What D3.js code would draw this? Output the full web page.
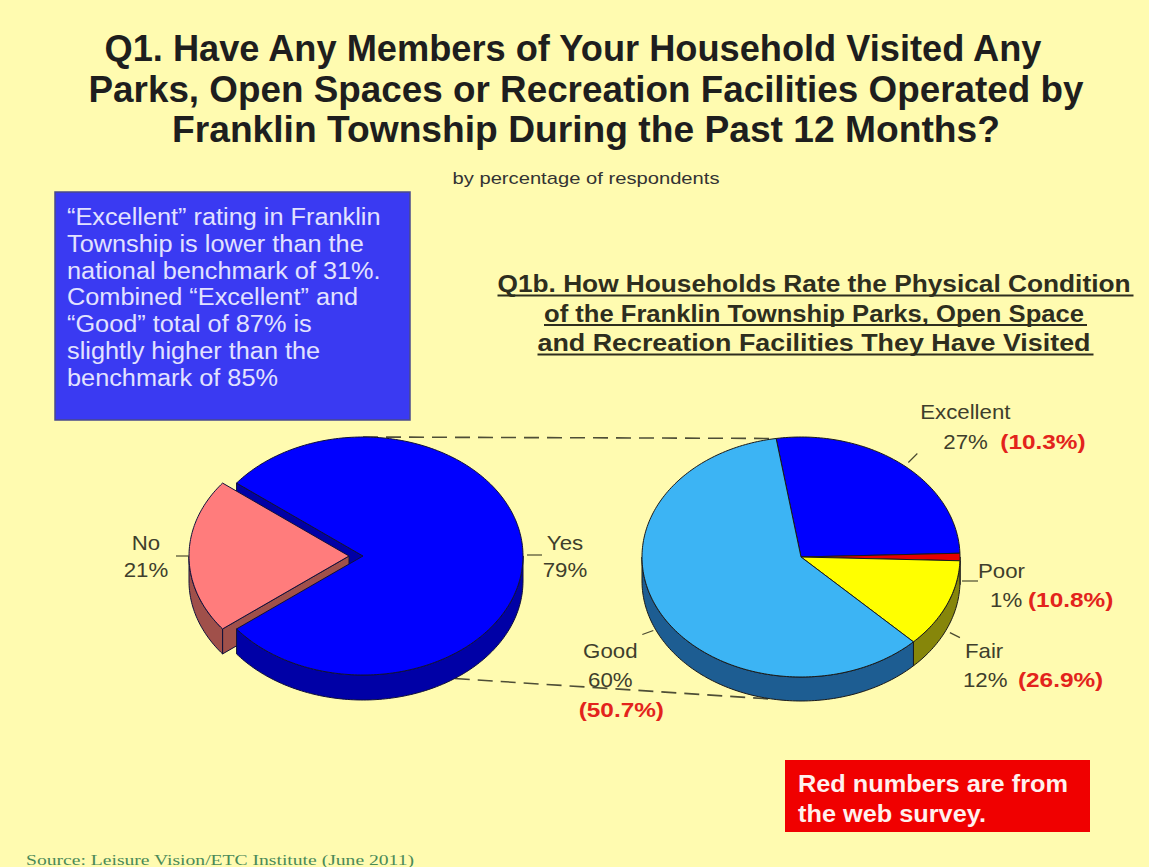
<!DOCTYPE html>
<html>
<head>
<meta charset="utf-8">
<script src="https://cdn.jsdelivr.net/npm/d3@7"></script>
<style>
  html, body { margin: 0; padding: 0; background: #fffbb0; }
  svg { display: block; }
</style>
</head>
<body>
<script>
// ---- Data ----
const visitCategories = ["Yes", "No"];
const visitValues = [79, 21];

const ratingCategories = ["Excellent", "Poor", "Fair", "Good"];
const ratingValues = [27, 1, 12, 60];
const webSurveyValues = [10.3, 10.8, 26.9, 50.7];

const titleLines = [
  "Q1. Have Any Members of Your Household Visited Any",
  "Parks, Open Spaces or Recreation Facilities Operated by",
  "Franklin Township During the Past 12 Months?"
];
const subtitleText = "by percentage of respondents";
const ratingTitleLines = [
  "Q1b.  How Households Rate the Physical Condition",
  "of the Franklin Township Parks, Open Space",
  "and Recreation Facilities They Have Visited"
];
const noteLines = [
  "\u201CExcellent\u201D rating in Franklin",
  "Township is lower than the",
  "national benchmark of 31%.",
  "Combined \u201CExcellent\u201D and",
  "\u201CGood\u201D total of 87% is",
  "slightly higher than the",
  "benchmark of 85%"
];
const webNoteLines = ["Red numbers are from", "the web survey."];
const sourceText = "Source:  Leisure Vision/ETC Institute (June 2011)";

// ---- Styling ----
const W = 1149, H = 867;
const FONT = "'Liberation Sans', Arial, sans-serif";
const labelColor = "#3e3e2c";
const webColor = "#e3231c";

const visitColors = {
  Yes: { top: "#0000ff", side: "#0000a6" },
  No:  { top: "#ff7c7c", side: "#a0504a" }
};
const ratingColors = {
  Excellent: { top: "#0000ff", side: "#0000a6" },
  Poor:      { top: "#e60000", side: "#8c0000" },
  Fair:      { top: "#ffff00", side: "#86860a" },
  Good:      { top: "#3cb4f4", side: "#1d5d92" }
};

const svg = d3.select("body").append("svg")
  .attr("width", W).attr("height", H)
  .style("font-family", FONT);

svg.append("rect").attr("width", W).attr("height", H).attr("fill", "#fffbb0");

// Fit a text to an exact width
function fitText(sel, width) {
  sel.attr("textLength", width).attr("lengthAdjust", "spacingAndGlyphs");
}
// Widen a text horizontally by a factor of its natural width
function stretch(sel, factor) {
  sel.each(function () {
    const w = this.getComputedTextLength();
    d3.select(this).attr("textLength", w * factor).attr("lengthAdjust", "spacingAndGlyphs");
  });
}

// ---- Titles ----
const titleWidths = [937, 995, 828];
const titleCenters = [573, 586, 586];
titleLines.forEach((t, i) => {
  svg.append("text")
    .attr("x", titleCenters[i]).attr("y", 61 + i * 40.5)
    .attr("text-anchor", "middle")
    .attr("font-size", 37).attr("font-weight", "bold")
    .attr("fill", "#1e1e1e")
    .text(t)
    .call(fitText, titleWidths[i]);
});

svg.append("text")
  .attr("x", 586).attr("y", 184)
  .attr("text-anchor", "middle")
  .attr("font-size", 17)
  .attr("fill", "#333")
  .text(subtitleText)
  .call(fitText, 267);

// ---- Note box (blue) ----
svg.append("rect")
  .attr("x", 55).attr("y", 192).attr("width", 355).attr("height", 228)
  .attr("fill", "#3a3af2").attr("stroke", "#4a4a8a").attr("stroke-width", 1.5);
noteLines.forEach((t, i) => {
  svg.append("text")
    .attr("x", 67).attr("y", 225 + i * 26.8)
    .attr("font-size", 23)
    .attr("fill", "#e2e2ff")
    .text(t)
    .call(stretch, 1.1);
});

// ---- Rating chart heading (underlined) ----
const rtWidths = [633, 540, 553];
ratingTitleLines.forEach((t, i) => {
  const y = 292 + i * 29.5;
  svg.append("text")
    .attr("x", 814).attr("y", y)
    .attr("text-anchor", "middle")
    .attr("font-size", 23).attr("font-weight", "bold")
    .attr("fill", "#2e2e1e")
    .text(t)
    .call(fitText, rtWidths[i]);
  svg.append("line")
    .attr("x1", 814 - rtWidths[i] / 2).attr("x2", 814 + rtWidths[i] / 2 + 3)
    .attr("y1", y + 3.5).attr("y2", y + 3.5)
    .attr("stroke", "#2e2e1e").attr("stroke-width", 2);
});

// ---- 3D pie helpers ----
const TAU = 2 * Math.PI;
function ellPt(g, a, off = [0, 0], dz = 0) {
  return [g.cx + off[0] + g.rx * Math.sin(a), g.cy + off[1] - g.ry * Math.cos(a) + dz];
}
function arcPts(g, a0, a1, off, dz) {
  const n = Math.max(2, Math.ceil(Math.abs(a1 - a0) / 0.02));
  return d3.range(n + 1).map(i => ellPt(g, a0 + (a1 - a0) * i / n, off, dz));
}
const line = d3.line();
function topPath(g, a0, a1, off) {
  return line([[g.cx + off[0], g.cy + off[1]], ...arcPts(g, a0, a1, off, 0)]) + "Z";
}
function outerWalls(g, a0, a1, off) {
  const paths = [];
  for (let k = -2; k <= 2; k++) {
    const f0 = Math.PI / 2 + k * TAU, f1 = 1.5 * Math.PI + k * TAU;
    const b0 = Math.max(a0, f0), b1 = Math.min(a1, f1);
    if (b1 > b0) {
      const upper = arcPts(g, b0, b1, off, 0);
      const lower = arcPts(g, b1, b0, off, g.depth);
      paths.push(line([...upper, ...lower]) + "Z");
    }
  }
  return paths;
}
function radialWall(g, a, off) {
  const c = [g.cx + off[0], g.cy + off[1]];
  const p = ellPt(g, a, off, 0);
  return line([c, p, [p[0], p[1] + g.depth], [c[0], c[1] + g.depth]]) + "Z";
}

function drawPie3D(layer, g, slices, colors, explode, strokeColor) {
  const offs = slices.map(s => {
    const e = explode[s.data.name] || 0;
    const m = (s.startAngle + s.endAngle) / 2;
    return [e * Math.sin(m), -e * Math.cos(m) * g.ry / g.rx];
  });
  const hasGap = slices.some(s => explode[s.data.name]);
  // radial walls visible through the exploded gap
  if (hasGap) {
    slices.forEach((s, i) => {
      const c = colors[s.data.name];
      if (Math.sin(s.startAngle) < 0)
        layer.append("path").attr("d", radialWall(g, s.startAngle, offs[i]))
          .attr("fill", c.side).attr("stroke", strokeColor).attr("stroke-width", 1);
      if (Math.sin(s.endAngle) > 0)
        layer.append("path").attr("d", radialWall(g, s.endAngle, offs[i]))
          .attr("fill", c.side).attr("stroke", strokeColor).attr("stroke-width", 1);
    });
  }
  // outer rim
  slices.forEach((s, i) => {
    const c = colors[s.data.name];
    outerWalls(g, s.startAngle, s.endAngle, offs[i]).forEach(d => {
      layer.append("path").attr("d", d)
        .attr("fill", c.side).attr("stroke", strokeColor).attr("stroke-width", 1);
    });
  });
  // top faces
  slices.forEach((s, i) => {
    const c = colors[s.data.name];
    layer.append("path").attr("d", topPath(g, s.startAngle, s.endAngle, offs[i]))
      .attr("fill", c.top).attr("stroke", strokeColor).attr("stroke-width", 1)
      .attr("stroke-linejoin", "round");
  });
  return offs;
}

// ---- Pie layouts ----
const visitData = visitCategories.map((name, i) => ({ name, value: visitValues[i] }));
const ratingData = ratingCategories.map((name, i) => ({ name, value: ratingValues[i], web: webSurveyValues[i] }));

// "No" slice is centred on the left (9 o'clock)
const noShare = visitValues[1] / d3.sum(visitValues);
const visitStart = -Math.PI / 2 + noShare * Math.PI;
const visitPie = d3.pie().sort(null).value(d => d.value)
  .startAngle(visitStart).endAngle(visitStart + TAU);
const ratingStart = -9 * Math.PI / 180;
const ratingPie = d3.pie().sort(null).value(d => d.value)
  .startAngle(ratingStart).endAngle(ratingStart + TAU);

const visitSlices = visitPie(visitData);
const ratingSlices = ratingPie(ratingData);

const gLeft = { cx: 363, cy: 556, rx: 160, ry: 119, depth: 25 };
const gRight = { cx: 801, cy: 557, rx: 159, ry: 120, depth: 24 };

// ---- Connector lines (drawn beneath the pies) ----
const connectors = svg.append("g")
  .attr("fill", "none").attr("stroke", "#4e4e36")
  .attr("stroke-width", 1.6).attr("stroke-dasharray", "15,8");
const topL = ellPt(gLeft, 0);
const topR = ellPt(gRight, ratingSlices[0].startAngle);
connectors.append("line")
  .attr("x1", topL[0]).attr("y1", topL[1]).attr("x2", topR[0]).attr("y2", topR[1]);
const botL = ellPt(gLeft, 145 * Math.PI / 180, [0, 0], gLeft.depth);
const botR = ellPt(gRight, 190 * Math.PI / 180, [0, 0], gRight.depth);
connectors.append("line")
  .attr("x1", botL[0]).attr("y1", botL[1]).attr("x2", botR[0]).attr("y2", botR[1]);

const leftLayer = svg.append("g");
const leftOffs = drawPie3D(leftLayer, gLeft, visitSlices, visitColors, { No: 14 }, "#10103a");
const rightLayer = svg.append("g");
drawPie3D(rightLayer, gRight, ratingSlices, ratingColors, {}, "#1a1a1a");

// ---- Labels ----
// Offsets relative to the slice's rim point at its mid-angle
const visitLabelLayout = {
  Yes: { lead: [[4, -1], [19, -1]], name: [42, -6, "middle"], value: [42, 21, "middle"] },
  No:  { lead: [[0, 0], [-13, 0]], name: [-43, -6, "middle"], value: [-43, 21, "middle"] }
};
const ratingLabelLayout = {
  Excellent: { lead: [[6, -2], [15, -11]], name: [63, -46, "middle"], value: [41, -16, "start"], web: [98, -16, "start"] },
  Poor:      { lead: [[2, 24], [18, 24]], name: [18, 21, "start"], value: [30, 50, "start"], web: [68, 50, "start"] },
  Fair:      { lead: [[3, 28], [13, 33]], name: [18, 53, "start"], value: [16, 82, "start"], web: [71, 82, "start"] },
  Good:      { lead: [[-6, 19], [-17, 23]], name: [-49, 47, "middle"], value: [-49, 76, "middle"], web: [-38, 106, "middle"] }
};

function drawLabels(g, slices, layout, offs, withWeb) {
  const grp = svg.append("g").attr("font-size", 21);
  slices.forEach((s, i) => {
    const L = layout[s.data.name];
    const m = (s.startAngle + s.endAngle) / 2;
    const a = ellPt(g, m, offs ? offs[i] : [0, 0]);
    grp.append("line")
      .attr("x1", a[0] + L.lead[0][0]).attr("y1", a[1] + L.lead[0][1])
      .attr("x2", a[0] + L.lead[1][0]).attr("y2", a[1] + L.lead[1][1])
      .attr("stroke", "#4a4a30").attr("stroke-width", 1.2);
    grp.append("text")
      .attr("x", a[0] + L.name[0]).attr("y", a[1] + L.name[1])
      .attr("text-anchor", L.name[2]).attr("fill", labelColor)
      .text(s.data.name)
      .call(stretch, 1.06);
    grp.append("text")
      .attr("x", a[0] + L.value[0]).attr("y", a[1] + L.value[1])
      .attr("text-anchor", L.value[2]).attr("fill", labelColor)
      .text(s.data.value + "%")
      .call(stretch, 1.06);
    if (withWeb) {
      grp.append("text")
        .attr("x", a[0] + L.web[0]).attr("y", a[1] + L.web[1])
        .attr("text-anchor", L.web[2]).attr("fill", webColor)
        .attr("font-weight", "bold")
        .text("(" + s.data.web.toFixed(1) + "%)")
        .call(stretch, 1.16);
    }
  });
}
drawLabels(gLeft, visitSlices, visitLabelLayout, leftOffs, false);
drawLabels(gRight, ratingSlices, ratingLabelLayout, null, true);

// ---- Web survey note (red box) ----
svg.append("rect")
  .attr("x", 785).attr("y", 760).attr("width", 305).attr("height", 72)
  .attr("fill", "#f00000");
webNoteLines.forEach((t, i) => {
  svg.append("text")
    .attr("x", 798).attr("y", 792 + i * 30)
    .attr("font-size", 23).attr("font-weight", "bold")
    .attr("fill", "#fff0ee")
    .text(t)
    .call(stretch, 1.1);
});

// ---- Source ----
svg.append("text")
  .attr("x", 26).attr("y", 865)
  .attr("font-family", "'Liberation Serif', 'Times New Roman', serif")
  .attr("font-size", 15)
  .attr("fill", "#4a8a58")
  .text(sourceText)
  .call(fitText, 388);
</script>
</body>
</html>
